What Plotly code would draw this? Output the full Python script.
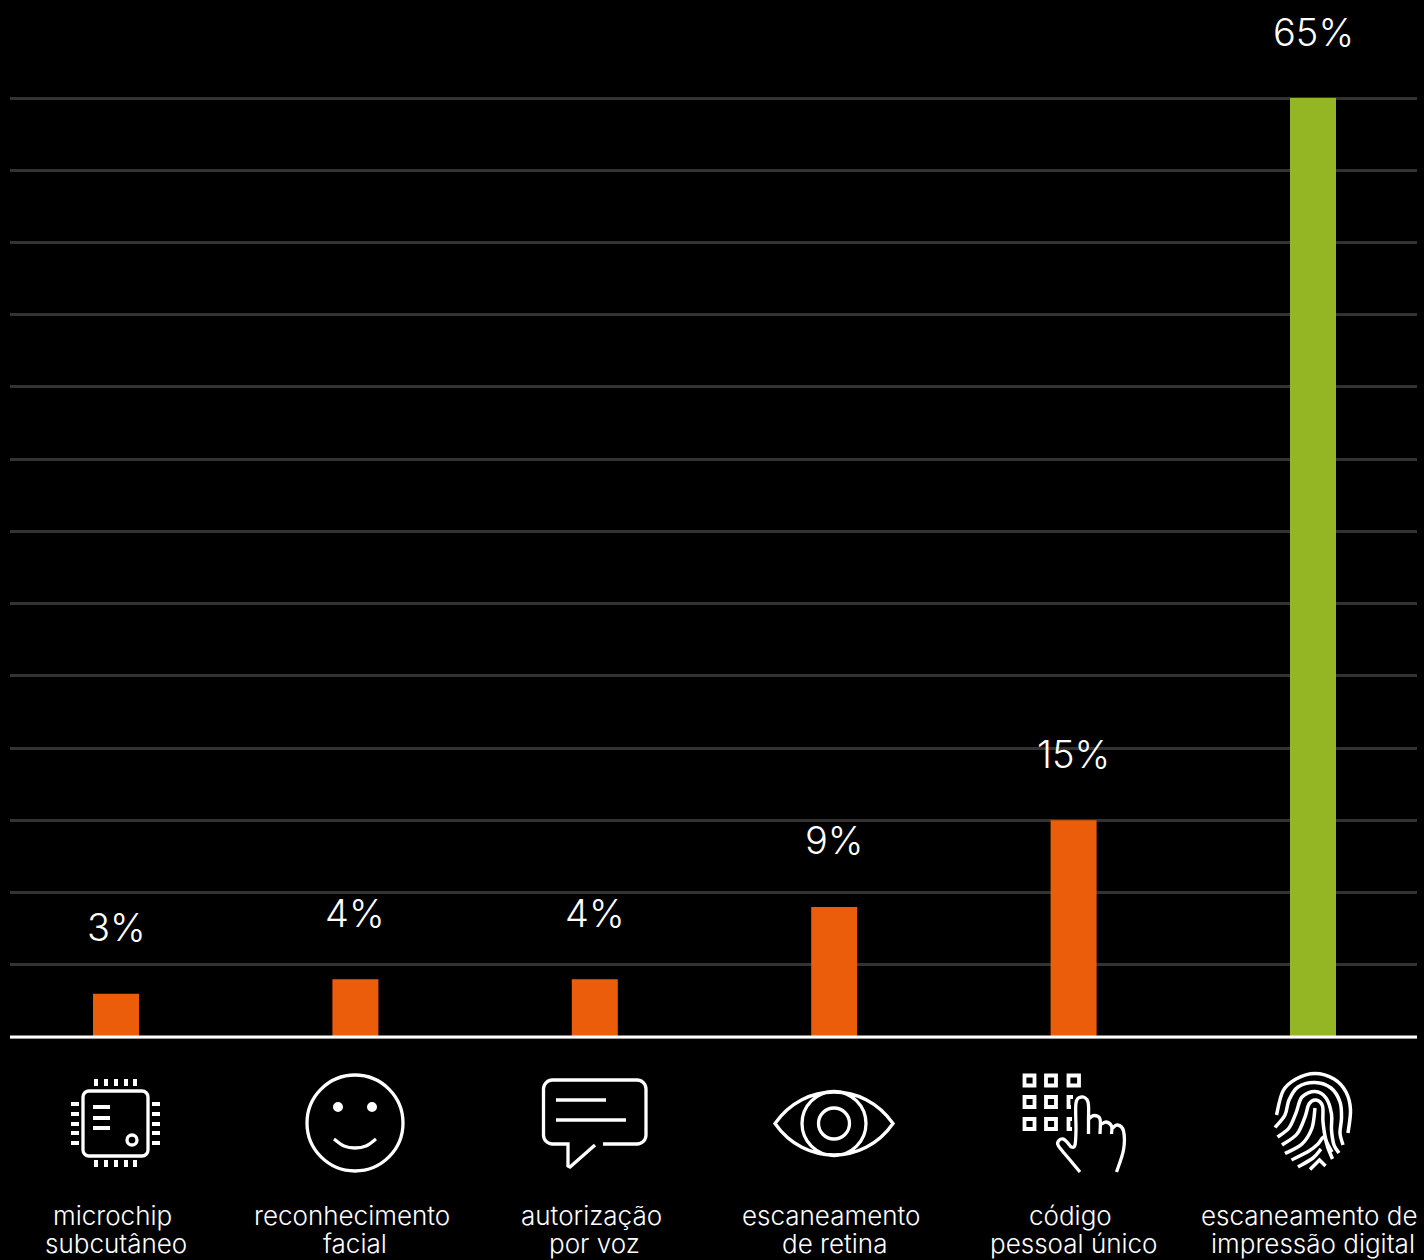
import plotly.graph_objects as go

# Survey results: share of respondents per authentication method
categories = ["microchip subcutâneo", "reconhecimento facial", "autorização por voz",
              "escaneamento de retina", "código pessoal único", "escaneamento de impressão digital"]
label_top = ["microchip", "reconhecimento", "autorização", "escaneamento", "código", "escaneamento de"]
label_bottom = ["subcutâneo", "facial", "por voz", "de retina", "pessoal único", "impressão digital"]
values = [3, 4, 4, 9, 15, 65]
value_labels = ["3%", "4%", "4%", "9%", "15%", "65%"]
bar_colors = ["#EB5D0B"] * 5 + ["#94B524"]
y_ticks = list(range(0, 70, 5))

FONT = "Inter"
WIDTH, HEIGHT = 1424, 1260
PLOT_LEFT, PLOT_RIGHT, PLOT_TOP, PLOT_BOTTOM = 10, 1417, 96, 1039
BASE_Y = 1037.0
UNIT_PX = (1037.0 - 98.0) / 65
FIRST_CENTER, STEP = 116.0, 239.4
KAPPA = 0.5523


def px(x, y, cx):
    """Offset from a category's axis anchor, with y counted upward from the baseline."""
    return f"{x - cx:.2f},{BASE_Y - y:.2f}"


def poly(points, cx, close=False):
    out = "M" + px(*points[0], cx)
    for p in points[1:]:
        out += " L" + px(*p, cx)
    return out + (" Z" if close else "")


def smooth(points, cx):
    """Catmull-Rom curve through the points, written as cubic segments."""
    out = "M" + px(*points[0], cx)
    n = len(points)
    for i in range(n - 1):
        p0 = points[max(i - 1, 0)]
        p1 = points[i]
        p2 = points[i + 1]
        p3 = points[min(i + 2, n - 1)]
        c1 = (p1[0] + (p2[0] - p0[0]) / 6, p1[1] + (p2[1] - p0[1]) / 6)
        c2 = (p2[0] - (p3[0] - p1[0]) / 6, p2[1] - (p3[1] - p1[1]) / 6)
        out += " C" + " ".join(px(*q, cx) for q in (c1, c2, p2))
    return out


def ring(x, y, r, cx):
    k = KAPPA * r
    segs = [((x + r, y + k), (x + k, y + r), (x, y + r)),
            ((x - k, y + r), (x - r, y + k), (x - r, y)),
            ((x - r, y - k), (x - k, y - r), (x, y - r)),
            ((x + k, y - r), (x + r, y - k), (x + r, y))]
    out = "M" + px(x + r, y, cx)
    for s in segs:
        out += " C" + " ".join(px(*q, cx) for q in s)
    return out + " Z"


def round_box(x0, y0, x1, y1, r, cx):
    k = r * (1 - KAPPA)
    p = lambda *q: " ".join(px(*c, cx) for c in q)
    return (f"M{px(x0 + r, y0, cx)} L{px(x1 - r, y0, cx)}"
            f" C{p((x1 - k, y0), (x1, y0 + k), (x1, y0 + r))} L{px(x1, y1 - r, cx)}"
            f" C{p((x1, y1 - k), (x1 - k, y1), (x1 - r, y1))} L{px(x0 + r, y1, cx)}"
            f" C{p((x0 + k, y1), (x0, y1 - k), (x0, y1 - r))} L{px(x0, y0 + r, cx)}"
            f" C{p((x0, y0 + k), (x0 + k, y0), (x0 + r, y0))} Z")


def chip_icon(cx):
    body = [round_box(83, 1091, 148, 1156, 6, cx), ring(132, 1140, 5, cx)]
    lines = [poly([(93, y), (110, y)], cx) for y in (1107, 1118, 1128)]
    lines += [poly([(x, 1079), (x, 1086)], cx) for x in (96, 106, 116, 126, 135)]
    lines += [poly([(x, 1160), (x, 1167)], cx) for x in (96, 106, 116, 126, 135)]
    lines += [poly([(71, y), (79, y)], cx) for y in (1104, 1114, 1124, 1133, 1143)]
    lines += [poly([(152, y), (160, y)], cx) for y in (1104, 1114, 1124, 1133, 1143)]
    return [(body, 3.3, None), (lines, 4, None)]


def face_icon(cx):
    outline = [ring(355, 1123, 48, cx),
               smooth([(334, 1139), (344, 1146), (355, 1148), (366, 1146), (376, 1139)], cx)]
    eyes = [ring(338, 1107, 3.5, cx), ring(372, 1107, 3.5, cx)]
    return [(outline, 3.3, None), (eyes, 3, "white")]


def bubble_icon(cx):
    r = 9
    k = r * (1 - KAPPA)
    p = lambda *q: " ".join(px(*c, cx) for c in q)
    x0, y0, x1, y1 = 543.5, 1080, 646, 1144
    outline = (f"M{px(595, 1145, cx)} L{px(570, 1167, cx)} L{px(568, 1166, cx)} L{px(568, y1, cx)}"
               f" L{px(x0 + r, y1, cx)} C{p((x0 + k, y1), (x0, y1 - k), (x0, y1 - r))}"
               f" L{px(x0, y0 + r, cx)} C{p((x0, y0 + k), (x0 + k, y0), (x0 + r, y0))}"
               f" L{px(x1 - r, y0, cx)} C{p((x1 - k, y0), (x1, y0 + k), (x1, y0 + r))}"
               f" L{px(x1, y1 - r, cx)} C{p((x1, y1 - k), (x1 - k, y1), (x1 - r, y1))}"
               f" L{px(603, y1, cx)}")
    lines = [outline, poly([(556, 1100), (606, 1100)], cx), poly([(556, 1120), (626, 1120)], cx)]
    return [(lines, 3.3, None)]


def eye_icon(cx):
    lens = (f"M{px(775, 1123.5, cx)}"
            f" C{px(790, 1102, cx)} {px(812, 1092, cx)} {px(834, 1092, cx)}"
            f" C{px(856, 1092, cx)} {px(878, 1102, cx)} {px(893, 1123.5, cx)}"
            f" C{px(878, 1145, cx)} {px(856, 1155, cx)} {px(834, 1155, cx)}"
            f" C{px(812, 1155, cx)} {px(790, 1145, cx)} {px(775, 1123.5, cx)} Z")
    return [([lens, ring(834, 1123.5, 32, cx), ring(834, 1123.5, 15.5, cx)], 3.3, None)]


def keypad_icon(cx):
    keys = []
    for x0, x1 in ((1024.5, 1034.5), (1046, 1056)):
        for y0, y1 in ((1075.5, 1085.5), (1097, 1107), (1119, 1129)):
            keys.append(poly([(x0, y0), (x1, y0), (x1, y1), (x0, y1)], cx, close=True))
    keys.append(poly([(1068.5, 1075.5), (1079, 1075.5), (1079, 1085.5), (1068.5, 1085.5)], cx, close=True))
    keys.append(poly([(1073, 1097), (1068.5, 1097), (1068.5, 1107), (1071, 1107)], cx))
    keys.append(poly([(1072, 1119), (1068.5, 1119), (1068.5, 1129), (1072, 1129)], cx))
    hand = [
        smooth([(1080, 1172), (1070, 1160), (1058.5, 1146), (1058.5, 1141), (1063, 1139),
                (1067, 1142), (1071.5, 1147), (1075, 1145), (1076, 1130), (1076, 1103),
                (1081.5, 1097), (1088, 1102), (1088.5, 1120), (1088.5, 1134)], cx),
        smooth([(1088.5, 1119), (1094, 1115.5), (1100, 1119), (1100, 1134)], cx),
        smooth([(1100, 1125), (1106, 1122), (1111.5, 1126), (1111.5, 1134)], cx),
        smooth([(1111.5, 1129), (1117.5, 1125), (1123.5, 1131), (1123.5, 1150), (1116.5, 1172)], cx),
    ]
    return [(keys, 3.8, None), (hand, 3.3, None)]


def fingerprint_icon(cx):
    ridges = [
        [(1276.5, 1115), (1283, 1091), (1296, 1079), (1315, 1073.5), (1334, 1079), (1346, 1092),
         (1350.5, 1110), (1348, 1133)],
        [(1275, 1127.5), (1285, 1115), (1289, 1100), (1298, 1087), (1315, 1082.5), (1331, 1088),
         (1340, 1102), (1341.5, 1118), (1340, 1133), (1343, 1145)],
        [(1277.5, 1137), (1289, 1128), (1296, 1113), (1302, 1097), (1315, 1091.5), (1326, 1098),
         (1331.5, 1114), (1331.5, 1130), (1334, 1145), (1339, 1153)],
        [(1282, 1145), (1297, 1134), (1305, 1117), (1309, 1104), (1316, 1100), (1322.5, 1106),
         (1323, 1122), (1326, 1140), (1332, 1152)],
        [(1285, 1153.5), (1302, 1144), (1312, 1128), (1315, 1108)],
        [(1291.5, 1160), (1309, 1151), (1318, 1144), (1324, 1137), (1328, 1148), (1332.5, 1159)],
        [(1298, 1167), (1313, 1158), (1321, 1149)],
    ]
    parts = [smooth(r, cx) for r in ridges]
    parts.append(poly([(1310, 1169.5), (1319.5, 1160), (1325.5, 1166)], cx))
    return [(parts, 3.5, None)]


icon_builders = [chip_icon, face_icon, bubble_icon, eye_icon, keypad_icon, fingerprint_icon]

x_range = [(PLOT_LEFT - FIRST_CENTER) / STEP, (PLOT_RIGHT - FIRST_CENTER) / STEP]
y_range = [(BASE_Y - PLOT_BOTTOM) / UNIT_PX, (BASE_Y - PLOT_TOP) / UNIT_PX]
baseline_paper = (PLOT_BOTTOM - BASE_Y) / (PLOT_BOTTOM - PLOT_TOP)
positions = list(range(len(categories)))

fig = go.Figure(
    go.Bar(x=positions, y=values, width=46 / STEP, marker=dict(color=bar_colors, line_width=0),
           customdata=categories, hovertemplate="%{customdata}: %{y}%<extra></extra>")
)

# Baseline across the full plot width, drawn over the feet of the bars
shapes = [dict(type="line", xref="paper", yref="y", x0=0, x1=1, y0=0, y1=0,
               line=dict(color="white", width=3), layer="above")]
# Icons sit below the plot area, so they anchor to paper space rather than to the y axis
for i, build in enumerate(icon_builders):
    cx = FIRST_CENTER + i * STEP
    for parts, stroke, fill in build(cx):
        shapes.append(dict(type="path", xref="x", yref="paper", xsizemode="pixel", ysizemode="pixel",
                           xanchor=i, yanchor=baseline_paper, path=" ".join(parts),
                           line=dict(color="white", width=stroke),
                           fillcolor=fill or "rgba(0,0,0,0)", layer="above"))

annotations = []
for i, (val, text) in enumerate(zip(values, value_labels)):
    annotations.append(dict(x=i, y=val, xref="x", yref="y", text=text, showarrow=False,
                            yshift=66.5, xanchor="center", yanchor="middle",
                            font=dict(family=FONT, size=38, color="white", weight=300)))
for i, (top, bottom) in enumerate(zip(label_top, label_bottom)):
    annotations.append(dict(x=i, y=0, xref="x", yref="y", text=top, showarrow=False,
                            xshift=-3.5, yshift=-178, xanchor="center", yanchor="middle",
                            font=dict(family=FONT, size=26, color="white", weight=300)))
    annotations.append(dict(x=i, y=0, xref="x", yref="y", text=bottom, showarrow=False,
                            yshift=-206.5, xanchor="center", yanchor="middle",
                            font=dict(family=FONT, size=26, color="white", weight=300)))

fig.update_layout(
    width=WIDTH, height=HEIGHT,
    margin=dict(l=PLOT_LEFT, r=WIDTH - PLOT_RIGHT, t=PLOT_TOP, b=HEIGHT - PLOT_BOTTOM, pad=0),
    paper_bgcolor="black", plot_bgcolor="black", showlegend=False,
    shapes=shapes, annotations=annotations,
    xaxis=dict(range=x_range, showgrid=False, zeroline=False, showticklabels=False, ticks="", showline=False),
    yaxis=dict(range=y_range, tickvals=y_ticks, showticklabels=False, ticks="", showgrid=True,
               gridcolor="#333333", gridwidth=2.5, zeroline=False, showline=False),
)

fig.write_html("out.html", config=dict(displayModeBar=False))
